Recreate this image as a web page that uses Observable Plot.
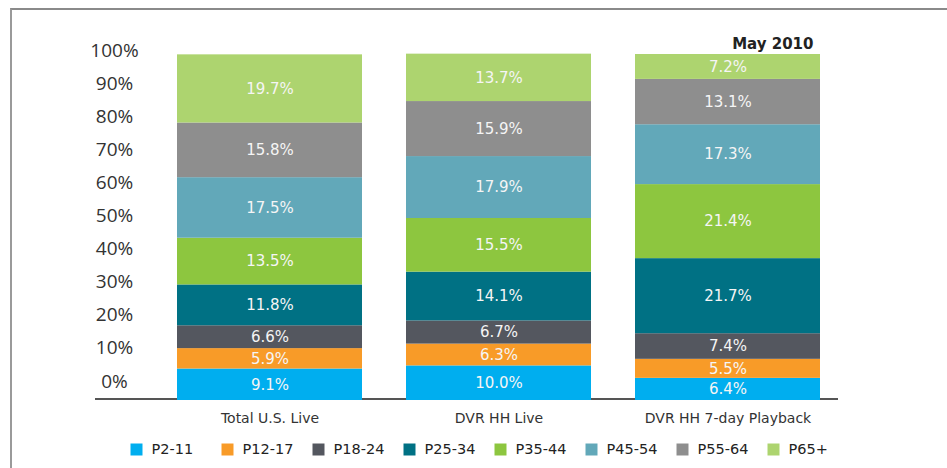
<!DOCTYPE html>
<html>
<head>
<meta charset="utf-8">
<script src="https://cdn.jsdelivr.net/npm/d3@7"></script>
<script src="https://cdn.jsdelivr.net/npm/@observablehq/plot@0.6"></script>
<style>
  html, body { margin: 0; padding: 0; background: #fff; }
  #wrap { position: relative; width: 947px; height: 468px; overflow: hidden; background: #fff; }
  #wrap svg { position: absolute; left: 0; background: transparent; }
  #border { position: absolute; left: 10px; top: 8px; right: 0; bottom: 0;
            border-top: 2px solid #8a8a8a; border-left: 2px solid #9a9a9a; pointer-events: none; }
</style>
</head>
<body>
<div id="wrap"><div id="border"></div></div>
<script>
const categories = ["Total U.S. Live", "DVR HH Live", "DVR HH 7-day Playback"];
const series = ["P2-11", "P12-17", "P18-24", "P25-34", "P35-44", "P45-54", "P55-64", "P65+"];
const totalUSLive = [9.1, 5.9, 6.6, 11.8, 13.5, 17.5, 15.8, 19.7];
const dvrHHLive = [10.0, 6.3, 6.7, 14.1, 15.5, 17.9, 15.9, 13.7];
const dvrHHPlayback = [6.4, 5.5, 7.4, 21.7, 21.4, 17.3, 13.1, 7.2];
const colors = ["#00aeef", "#f89b28", "#54575f", "#007184", "#8dc63f", "#62a8b9", "#8e8e8e", "#add46f"];
const yTicks = [0, 10, 20, 30, 40, 50, 60, 70, 80, 90, 100];
const note = "May 2010";

const valuesByCategory = [totalUSLive, dvrHHLive, dvrHHPlayback];
const data = categories.flatMap((c, i) =>
  series.map((s, j) => ({category: c, series: s, value: valuesByCategory[i][j]})));

const wrap = document.getElementById("wrap");
const border = document.getElementById("border");

const main = Plot.plot({
  width: 947, height: 430,
  marginTop: 54, marginBottom: 30, marginLeft: 155, marginRight: 104,
  style: {fontFamily: "DejaVu Sans", background: "transparent", color: "#333"},
  x: {domain: categories, paddingInner: 0.19, paddingOuter: 0.095, label: null},
  y: {domain: [0, 100], axis: null},
  color: {domain: series, range: colors},
  marks: [
    Plot.axisX({tickSize: 0, tickPadding: 13, fontSize: 14, fill: "#333", label: null}),
    Plot.ruleY([0], {stroke: "#555", strokeWidth: 2, dy: -1.5, insetLeft: -60, insetRight: 5}),
    Plot.barY(data, Plot.stackY({x: "category", y: "value", fill: "series", z: "series"})),
    Plot.text(data, Plot.stackY({x: "category", y: "value", z: "series",
      text: d => d.value.toFixed(1) + "%", fill: "#f5f5f5", fontSize: 15})),
    Plot.text([note], {frameAnchor: "top-right", dx: -30, dy: -16, fontWeight: "bold", fontSize: 15, fill: "#222"})
  ]
});
main.style.top = "0px";
wrap.insertBefore(main, border);

const yAxisPlot = Plot.plot({
  width: 947, height: 430,
  marginTop: 50, marginBottom: 49, marginLeft: 155, marginRight: 104,
  style: {fontFamily: "Open Sans", background: "transparent"},
  y: {domain: [0, 100]},
  marks: [
    Plot.axisY(yTicks, {tickSize: 0, tickPadding: 41, textAnchor: "middle", fontSize: 19,
      fill: "#333", label: null, tickFormat: d => d + "%"})
  ]
});
yAxisPlot.style.top = "0px";
yAxisPlot.style.pointerEvents = "none";
wrap.insertBefore(yAxisPlot, border);

const legend = Plot.plot({
  width: 947, height: 38, margin: 0,
  style: {fontFamily: "DejaVu Sans", background: "transparent"},
  x: {type: "point", domain: series, range: [134, 774], padding: 0, axis: null},
  color: {domain: series, range: colors},
  marks: [
    Plot.dot(series, {x: d => d, fill: d => d, symbol: "square", r: 6.77, frameAnchor: "middle"}),
    Plot.text(series, {x: d => d, text: d => d, textAnchor: "start", dx: 15, frameAnchor: "middle",
      fontSize: 14.5, fill: "#222"})
  ]
});
legend.style.top = "430px";
wrap.insertBefore(legend, border);
</script>
</body>
</html>
